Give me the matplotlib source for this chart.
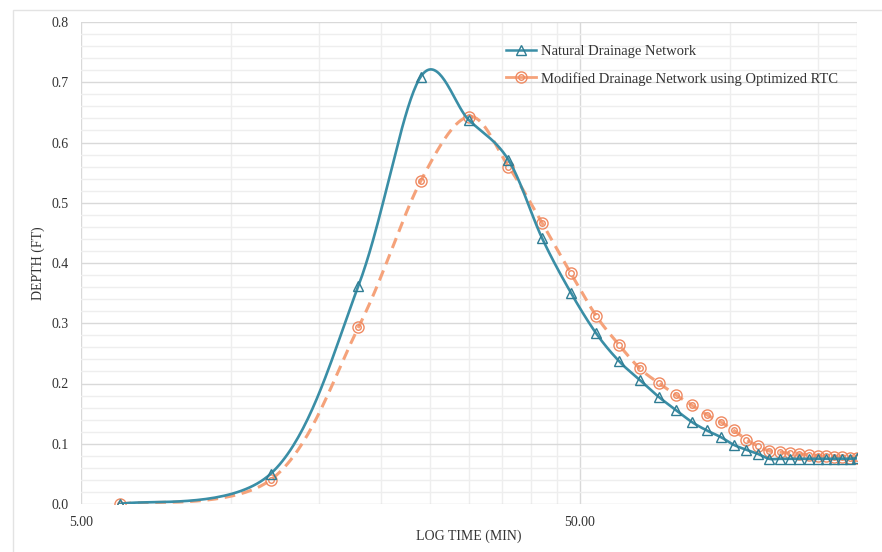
import numpy as np
import matplotlib
matplotlib.use("Agg")
import matplotlib.pyplot as plt
from matplotlib.lines import Line2D
from matplotlib.legend_handler import HandlerTuple
from matplotlib.ticker import FixedLocator, FixedFormatter, MultipleLocator, NullFormatter
from matplotlib.patches import Rectangle

# ---------------- data ----------------
time_min = [6, 12, 18, 24, 30, 36, 42, 48, 54, 60, 66, 72, 78, 84, 90, 96,
            102, 108, 114, 120, 126, 132, 138, 144, 150, 156, 162, 168, 174, 180]
natural_depth = [0.0, 0.050, 0.362, 0.709, 0.637, 0.571, 0.442, 0.351, 0.283, 0.237,
                 0.206, 0.178, 0.156, 0.136, 0.122, 0.111, 0.098, 0.090, 0.083, 0.075,
                 0.075, 0.075, 0.075, 0.075, 0.075, 0.075, 0.075, 0.075, 0.075, 0.076]
modified_depth = [0.0, 0.040, 0.293, 0.536, 0.643, 0.560, 0.467, 0.383, 0.312, 0.264,
                  0.225, 0.201, 0.181, 0.164, 0.148, 0.136, 0.122, 0.107, 0.096, 0.088,
                  0.086, 0.084, 0.083, 0.082, 0.080, 0.079, 0.078, 0.078, 0.077, 0.077]
x_tick_values = [5, 50]
x_tick_labels = ["5.00", "50.00"]
x_minor_values = [10, 15, 20, 25, 30, 35, 40, 45, 100, 150]
y_tick_values = [0.0, 0.1, 0.2, 0.3, 0.4, 0.5, 0.6, 0.7, 0.8]
series_names = ["Natural Drainage Network", "Modified Drainage Network using Optimized RTC"]

TEAL = "#3a8ea6"
TEAL_DARK = "#2f7d94"
ORANGE = "#f5a27a"
ORANGE_MK = "#ef8a62"

plt.rcParams['font.family'] = ['Liberation Serif', 'DejaVu Serif']


def excel_smooth(xs, ys, n=40):
    """Excel-like smoothed line (Bezier through points) in log-x space."""
    P = np.column_stack([np.log10(np.asarray(xs, float)), np.asarray(ys, float)])
    out = []
    t = np.linspace(0, 1, n)[:, None]
    for i in range(len(P) - 1):
        p0 = P[i - 1] if i > 0 else P[i]
        p1, p2 = P[i], P[i + 1]
        p3 = P[i + 2] if i + 2 < len(P) else P[i + 1]
        c1 = p1 + (p2 - p0) / 6.0
        c2 = p2 - (p3 - p1) / 6.0
        seg = (1 - t) ** 3 * p1 + 3 * (1 - t) ** 2 * t * c1 + 3 * (1 - t) * t ** 2 * c2 + t ** 3 * p2
        out.append(seg if i == 0 else seg[1:])
    arr = np.vstack(out)
    return 10 ** arr[:, 0], arr[:, 1]


fig = plt.figure(figsize=(8.82, 5.52), dpi=100)
fig.patches.append(Rectangle((13 / 882, -0.05), 1.2, 1 - 10 / 552 + 0.05,
                             transform=fig.transFigure, fill=False,
                             edgecolor="#e3e3e3", linewidth=1.0))
ax = fig.add_axes([81 / 882, 1 - 504 / 552, (857 - 81) / 882, (504 - 22) / 552])

ax.set_xscale("log")
ax.set_xlim(5, 180)
ax.set_ylim(0, 0.8)

# grid
ax.xaxis.set_major_locator(FixedLocator(x_tick_values))
ax.xaxis.set_major_formatter(FixedFormatter(x_tick_labels))
ax.xaxis.set_minor_locator(FixedLocator(x_minor_values))
ax.xaxis.set_minor_formatter(NullFormatter())
ax.yaxis.set_major_locator(FixedLocator(y_tick_values))
ax.yaxis.set_minor_locator(MultipleLocator(0.02))
ax.yaxis.set_major_formatter(FixedFormatter([f"{v:.1f}" for v in y_tick_values]))
ax.grid(which="major", color="#d9d9d9", linewidth=1.0)
ax.grid(which="minor", color="#eeeeee", linewidth=1.0)
ax.set_axisbelow(True)
for s in ["top", "right", "left", "bottom"]:
    ax.spines[s].set_visible(False)
ax.axvline(180, color="#eeeeee", linewidth=1.0, zorder=0)
ax.tick_params(which="both", length=0)
ax.tick_params(axis="y", pad=9, labelsize=10, colors="#333333")
ax.tick_params(axis="x", pad=9, labelsize=10, colors="#333333")

# series
xs_n, ys_n = excel_smooth(time_min, natural_depth)
xs_m, ys_m = excel_smooth(time_min, modified_depth)
ax.plot(xs_m, ys_m, color=ORANGE, linewidth=2.2, linestyle=(0, (3.5, 2.2)), zorder=3)
ax.plot(time_min, modified_depth, linestyle="none", marker="o", markersize=8,
        markerfacecolor="none", markeredgecolor=ORANGE_MK, markeredgewidth=1.0, zorder=4)
ax.plot(time_min, modified_depth, linestyle="none", marker="o", markersize=4,
        markerfacecolor="none", markeredgecolor=ORANGE_MK, markeredgewidth=1.0, zorder=4)
ax.plot(xs_n, ys_n, color=TEAL, linewidth=1.9, zorder=5)
ax.plot(time_min, natural_depth, linestyle="none", marker="^", markersize=7,
        markerfacecolor="none", markeredgecolor=TEAL_DARK, markeredgewidth=1.0, zorder=6)

# labels
ax.set_xlabel("LOG TIME (MIN)", fontsize=10, color="#333333", labelpad=0)
ax.set_ylabel("DEPTH (FT)", fontsize=10, color="#333333")
ax.yaxis.set_label_coords(-36 / 776, 0.5)

# legend
h_nat = Line2D([], [], color=TEAL, linewidth=1.8, marker="^", markersize=7,
               markerfacecolor="none", markeredgecolor=TEAL_DARK, markeredgewidth=1.0)
h_mod_line = Line2D([], [], color=ORANGE, linewidth=2.0, marker="o", markersize=8,
                    markerfacecolor="none", markeredgecolor=ORANGE_MK, markeredgewidth=1.0)
h_mod_in = Line2D([], [], linestyle="none", marker="o", markersize=4,
                  markerfacecolor="none", markeredgecolor=ORANGE_MK, markeredgewidth=1.0)
leg = ax.legend([h_nat, (h_mod_line, h_mod_in)], series_names,
                handler_map={tuple: HandlerTuple(ndivide=1)},
                loc="upper left", bbox_to_anchor=((493 - 81) / 776, 1 - (32 - 22) / 482),
                frameon=False, fontsize=10.5, handlelength=2.05, labelspacing=0.92,
                handletextpad=0.35, labelcolor="#333333")

fig.savefig("out.png", dpi=100)
